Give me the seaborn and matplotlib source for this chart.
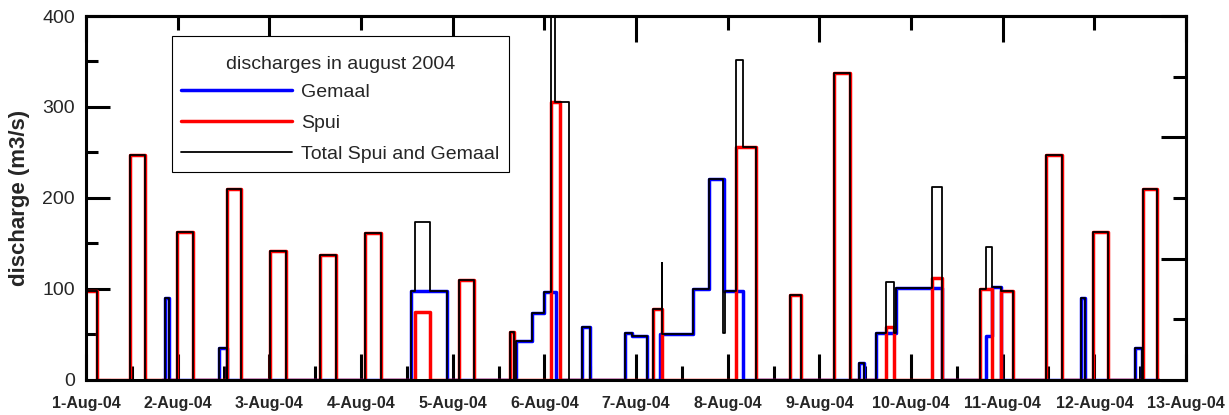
import numpy as np
import pandas as pd
import matplotlib
matplotlib.use("Agg")
import matplotlib.pyplot as plt
from matplotlib.lines import Line2D
from matplotlib.offsetbox import VPacker, DrawingArea
import seaborn as sns

# ---------------- data (time in hours from 1-Aug-04 00:00, discharge m3/s) ----------------
spui_t = [0, 3, 11.5, 15.4, 23.9, 28.1, 37.0, 40.5, 48.1, 52.4, 61.2, 65.4, 73.0, 77.3,
          86.2, 90.0, 97.7, 101.7, 111.1, 112.1, 121.8, 124.2, 148.4, 150.8, 170.3, 175.4,
          184.3, 187.2, 195.9, 200.0, 209.5, 211.6, 221.5, 224.1, 234.1, 237.2, 239.5, 242.6,
          251.4, 255.5, 263.6, 267.7, 276.7, 280.3, 281.0]
spui_q = [98, 0, 247, 0, 163, 0, 210, 0, 142, 0, 137, 0, 161, 0,
          75, 0, 110, 0, 53, 0, 306, 0, 78, 0, 256, 0,
          93, 0, 337, 0, 58, 0, 112, 0, 100, 0, 98, 0,
          247, 0, 163, 0, 210, 0, 0]

gemaal_t = [20.0, 20.6, 21.7, 34.8, 36.8, 85.0, 94.6, 112.6, 116.8, 119.8, 123.0, 129.9, 131.9,
            141.0, 143.0, 147.0, 150.3, 159.0, 163.0, 167.1, 172.0, 202.5, 203.8, 206.8, 212.0,
            224.0, 235.6, 237.2, 239.5, 260.4, 261.6, 274.7, 276.4, 281.0]
gemaal_q = [0, 90, 0, 35, 0, 98, 0, 43, 74, 96, 0, 58, 0,
            52, 48, 0, 50, 100, 221, 98, 0, 18, 0, 51, 101,
            0, 48, 102, 0, 90, 0, 35, 0, 0]

total_t = [0, 3, 11.5, 15.4, 20.6, 21.7, 23.9, 28.1, 34.8, 36.8, 37.0, 40.5, 48.1, 52.4,
           61.2, 65.4, 73.0, 77.3, 85.0, 86.2, 90.0, 94.6, 97.7, 101.7, 111.1, 112.1, 112.6,
           116.8, 119.8, 121.8, 122.9, 126.4, 129.9, 131.9, 141.0, 143.0, 147.0, 148.4, 150.7,
           150.8, 159.0, 163.0, 166.9, 167.3, 170.3, 172.0, 175.4, 184.3, 187.2, 195.9, 200.0,
           202.5, 203.8, 206.8, 209.5, 211.6, 212.0, 221.5, 224.1, 234.1, 235.7, 237.2, 239.5,
           242.6, 251.4, 255.5, 260.4, 261.6, 263.6, 267.7, 274.7, 276.4, 276.7, 280.3, 281.0]
total_q = [98, 0, 247, 0, 90, 0, 163, 0, 35, 0, 210, 0, 142, 0,
           137, 0, 161, 0, 98, 173, 98, 0, 110, 0, 53, 0, 43,
           74, 96, 402, 306, 0, 58, 0, 52, 48, 0, 78, 128,
           50, 100, 221, 51, 98, 352, 256, 0, 93, 0, 337, 0,
           18, 0, 51, 108, 51, 101, 212, 0, 100, 146, 102, 98,
           0, 247, 0, 90, 0, 163, 0, 35, 0, 210, 0, 0]

date_labels = ['1-Aug-04', '2-Aug-04', '3-Aug-04', '4-Aug-04', '5-Aug-04', '6-Aug-04',
               '7-Aug-04', '8-Aug-04', '9-Aug-04', '10-Aug-04', '11-Aug-04', '12-Aug-04',
               '13-Aug-04']
series_names = ['Gemaal', 'Spui', 'Total Spui and Gemaal']
legend_title = 'discharges in august 2004'

# ---------------- style ----------------
sns.set_theme(style='white')
plt.rcParams['font.family'] = ['Liberation Sans', 'DejaVu Sans']

fig = plt.figure(figsize=(12.29, 4.15), dpi=100)
ax = fig.add_axes([0.0700, 0.0848, 0.8950, 0.8766])

frames = {
    'Gemaal': pd.DataFrame({'day': np.array(gemaal_t) / 24.0, 'q': gemaal_q}),
    'Spui': pd.DataFrame({'day': np.array(spui_t) / 24.0, 'q': spui_q}),
    'Total Spui and Gemaal': pd.DataFrame({'day': np.array(total_t) / 24.0, 'q': total_q}),
}
styles = {
    'Gemaal': dict(color='#0000ff', lw=2.5, zorder=2.0),
    'Spui': dict(color='#ff0000', lw=2.5, zorder=2.1),
    'Total Spui and Gemaal': dict(color='black', lw=1.3, zorder=2.2),
}
for name in series_names:
    st = styles[name]
    sns.lineplot(data=frames[name], x='day', y='q', ax=ax, drawstyle='steps-post',
                 estimator=None, sort=False, color=st['color'], linewidth=st['lw'],
                 zorder=st['zorder'], legend=False)

ax.set_xlim(0, 12)
ax.set_ylim(0, 400)

# spines
for sp in ax.spines.values():
    sp.set_visible(True)
    sp.set_linewidth(2.2)
    sp.set_color('black')
    sp.set_zorder(3)

# bottom axis ticks
ax.set_xticks(np.arange(13))
ax.set_xticklabels(date_labels, fontsize=11.5, fontweight='bold')
ax.set_xticks(np.arange(0.5, 12, 1.0), minor=True)
ax.tick_params(axis='x', which='major', direction='in', length=19, width=2.2,
               color='black', pad=12, bottom=True, top=False)
ax.tick_params(axis='x', which='minor', direction='in', length=10, width=2.2,
               color='black', bottom=True, top=False)

# left axis ticks
ax.set_yticks([0, 100, 200, 300, 400])
ax.set_yticklabels(['0', '100', '200', '300', '400'], fontsize=14)
ax.set_yticks([50, 150, 250, 350], minor=True)
ax.tick_params(axis='y', which='major', direction='in', length=17, width=2.2,
               color='black', pad=8, left=True, right=False)
ax.tick_params(axis='y', which='minor', direction='in', length=8.5, width=2.2,
               color='black', left=True, right=False)
ax.set_xlabel('')
ax.set_ylabel('discharge (m3/s)', fontsize=16, fontweight='bold', labelpad=9)

# top axis
top = ax.secondary_xaxis('top')
top.set_xticks(np.arange(0, 13, 2))
top.set_xticks(np.arange(1, 13, 2), minor=True)
top.set_xticklabels([])
top.tick_params(axis='x', which='major', direction='in', length=19, width=2.2, color='black')
top.tick_params(axis='x', which='minor', direction='in', length=10, width=2.2, color='black')
top.spines['top'].set_linewidth(2.2)

# right axis
right = ax.secondary_yaxis('right')
right.set_yticks([0, 400 / 3, 800 / 3, 400])
right.set_yticks([200 / 3, 200, 1000 / 3], minor=True)
right.set_yticklabels([])
right.tick_params(axis='y', which='major', direction='in', length=18, width=2.2, color='black')
right.tick_params(axis='y', which='minor', direction='in', length=9.5, width=2.2, color='black')
right.spines['right'].set_linewidth(2.2)

# legend
handles = [Line2D([], [], color=styles[n]['color'], lw=styles[n]['lw']) for n in series_names]
leg = ax.legend(handles, series_names, title=legend_title, loc='upper left',
                bbox_to_anchor=(0.078, 0.945), fontsize=14, title_fontsize=14,
                frameon=True, fancybox=False, edgecolor='black', handlelength=5.7,
                handletextpad=0.5, labelspacing=0.68, borderpad=0.46, borderaxespad=0)
leg.get_frame().set_linewidth(0.8)
leg.get_frame().set_alpha(1)
try:
    title_box = leg._legend_box.get_children()[0]
    spaced_title = VPacker(children=[DrawingArea(1, 8), title_box], pad=0, sep=0,
                           align='center')
    leg._legend_box._children[0] = spaced_title
    leg._legend_box.sep = 7.5
except Exception:
    pass

fig.savefig('out.png', dpi=100)
